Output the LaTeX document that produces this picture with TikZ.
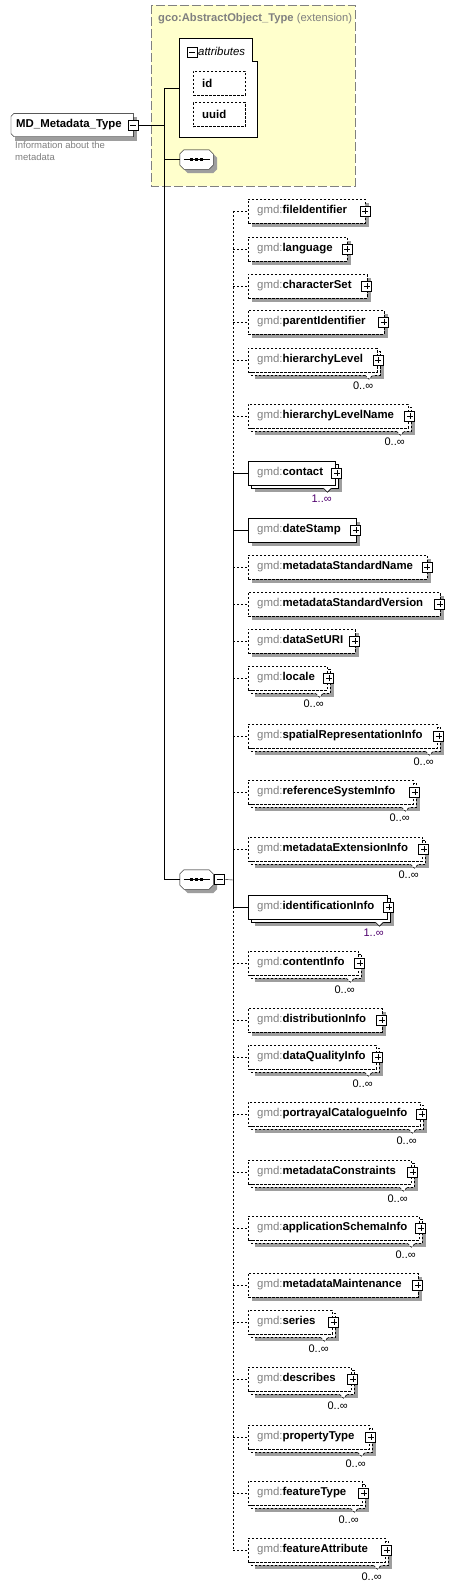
\documentclass[tikz,border=0pt]{standalone}
\usepackage{fontspec}
\setmainfont{Liberation Sans}

\definecolor{gmdgray}{RGB}{128,128,128}
\definecolor{extyellow}{RGB}{255,255,204}
\definecolor{mpurple}{RGB}{80,0,110}
\definecolor{boxshade}{rgb}{0.62,0.62,0.62}

\pgfdeclarelayer{back}
\pgfdeclarelayer{shadowlayer}
\pgfsetlayers{back,shadowlayer,main}

\newcommand{\elemfont}{\fontsize{11.4pt}{13pt}\selectfont}
\newcommand{\occfont}{\fontsize{11pt}{12pt}\selectfont}
\newcommand{\gmd}[1]{{\color{gmdgray}gmd:}\textbf{#1}}
% octagon round a node, moved by #2
\newcommand{\octpath}[2]{([shift={(#2)}, xshift=4pt]#1.north west) -- ([shift={(#2)}, xshift=-4pt]#1.north east)
  -- ([shift={(#2)}, yshift=-4pt]#1.north east) -- ([shift={(#2)}, yshift=4pt]#1.south east)
  -- ([shift={(#2)}, xshift=-4pt]#1.south east) -- ([shift={(#2)}, xshift=4pt]#1.south west)
  -- ([shift={(#2)}, yshift=4pt]#1.south west) -- ([shift={(#2)}, yshift=-4pt]#1.north west) -- cycle}
% box outline round a node, moved by #2
\newcommand{\boxpath}[2]{([shift={(#2)}]#1.north west) -- ([shift={(#2)}]#1.north east)
  -- ([shift={(#2)}]#1.south east) -- ([shift={(#2)}]#1.south west) -- cycle}

\begin{document}
\begin{tikzpicture}[x=1pt, y=-1pt, line width=0.8pt,
  elem/.style={draw, fill=white, anchor=west, minimum height=24pt, inner sep=0pt},
  opt/.style={dash pattern=on 2.4pt off 1.6pt},
  etext/.style={anchor=west, inner sep=0pt, xshift=9pt, font=\elemfont},
  gmdname/.style={label={[etext]west:\gmd{#1}}},
  plusbox/.style={anchor=center, draw, solid, fill=white, line width=1pt, minimum size=10pt, inner sep=0pt,
    path picture={\draw[line width=0.8pt]
      ([yshift=-2pt]path picture bounding box.north) -- ([yshift=2pt]path picture bounding box.south)
      ([xshift=2pt]path picture bounding box.west) -- ([xshift=-2pt]path picture bounding box.east);}},
  minusbox/.style={anchor=center, draw, solid, fill=white, line width=1pt, minimum size=10pt, inner sep=0pt,
    path picture={\draw[line width=0.8pt]
      ([xshift=2pt]path picture bounding box.west) -- ([xshift=-2pt]path picture bounding box.east);}},
  plusmark/.style={label={[plusbox, xshift=#1]east:}}, plusmark/.default=0pt,
  occtext/.style={anchor=east, inner sep=0pt, xshift=-3.5pt, yshift=-14pt, font=\occfont},
  occurs/.style={label={[occtext]south east:#1}},
  notch/.style={line width=0.6pt, fill=white},
  typebox/.style={anchor=west, inner sep=0pt, minimum width=122pt, minimum height=23pt},
  seqbox/.style={inner sep=0pt, minimum width=33pt, minimum height=19pt},
  extbox/.style={draw=gmdgray, fill=extyellow, line width=1pt, dash pattern=on 9pt off 3pt},
  desc/.style={anchor=north west, inner sep=0pt, align=left, text=gmdgray, font=\fontsize{9.5pt}{12pt}\selectfont}]

  \begin{pgfonlayer}{back}
    \path[use as bounding box, fill=white] (0,0) rectangle (470,1588);
    % extension base type
    \draw[extbox] (151,5) rectangle (355,186);
  \end{pgfonlayer}
  \node[anchor=west, inner sep=0pt, text=gmdgray, font=\fontsize{11.2pt}{13pt}\selectfont] (extHead) at (158,19)
    {\textbf{gco:AbstractObject\_Type} (extension)};

  % attribute group
  \draw[fill=white] (179,38) -- (252,38) -- (252,61) -- (257,61) -- (257,137) -- (179,137) -- cycle;
  \coordinate (attrs) at (179,88);
  \node[minusbox] (attrMinus) at (192,52) {};
  \node[anchor=west, inner sep=0pt, font=\elemfont\itshape] (attrHead) at (198,51) {attributes};
  \node[elem, opt, minimum width=52pt, label={[etext]west:\textbf{id}}] (attrId) at (193,83) {};
  \node[elem, opt, minimum width=52pt, label={[etext]west:\textbf{uuid}}] (attrUuid) at (193,114.5) {};

  % complex type
  \node[typebox, label={[etext, xshift=-4pt]west:\textbf{MD\_Metadata\_Type}},
    label={[minusbox, name=mdMinus]east:}] (mdType) at (11,125) {};
  \node[desc] (mdDesc) at (15,141) {Information about the\\metadata};

  \node[seqbox] (seqA) at (196.5,159.5) {};
  \node[seqbox, label={[minusbox, anchor=west, xshift=1pt, name=seqBMinus]east:}] (seqB) at (196.5,879.5) {};

  \coordinate (spine) at (164,88);
  \coordinate (bus) at (233,880);
  \draw (mdMinus.east) -- (mdMinus.east -| spine);
  \draw (spine) -- (attrs);
  \draw (spine) -- (spine |- seqB.west) -- (seqB.west);
  \draw (seqA.west -| spine) -- (seqA.west);
  \draw (seqBMinus.east) -- (bus);

  % sequence members
  \node[elem, opt, minimum width=117pt, gmdname=fileIdentifier, plusmark] (fileIdentifier) at (248,211) {};
  \node[elem, opt, minimum width=99pt, gmdname=language, plusmark] (language) at (248,249) {};
  \node[elem, opt, minimum width=118.5pt, gmdname=characterSet, plusmark] (characterSet) at (248,286) {};
  \node[elem, opt, minimum width=135.5pt, gmdname=parentIdentifier, plusmark] (parentIdentifier) at (248,322) {};
  \node[elem, opt, minimum width=128.5pt, gmdname=hierarchyLevel, plusmark=1.5pt, occurs=0..∞] (hierarchyLevel) at (248,360) {};
  \node[elem, opt, minimum width=160pt, gmdname=hierarchyLevelName, plusmark=1.5pt, occurs=0..∞] (hierarchyLevelName) at (248,416) {};
  \node[elem, minimum width=87pt, gmdname=contact, plusmark=1.5pt, occurs={\textcolor{mpurple}{1..∞}}] (contact) at (248,473) {};
  \node[elem, minimum width=107.5pt, gmdname=dateStamp, plusmark] (dateStamp) at (248,530) {};
  \node[elem, opt, minimum width=179pt, gmdname=metadataStandardName, plusmark] (metadataStandardName) at (248,567) {};
  \node[elem, opt, minimum width=191.5pt, gmdname=metadataStandardVersion, plusmark] (metadataStandardVersion) at (248,604) {};
  \node[elem, opt, minimum width=106.5pt, gmdname=dataSetURI, plusmark] (dataSetURI) at (248,641) {};
  \node[elem, opt, minimum width=79pt, gmdname=locale, plusmark=1.5pt, occurs=0..∞] (locale) at (248,678) {};
  \node[elem, opt, minimum width=189pt, gmdname=spatialRepresentationInfo, plusmark=1.5pt, occurs=0..∞] (spatialRepresentationInfo) at (248,736) {};
  \node[elem, opt, minimum width=165pt, gmdname=referenceSystemInfo, plusmark=1.5pt, occurs=0..∞] (referenceSystemInfo) at (248,792) {};
  \node[elem, opt, minimum width=174pt, gmdname=metadataExtensionInfo, plusmark=1.5pt, occurs=0..∞] (metadataExtensionInfo) at (248,849) {};
  \node[elem, minimum width=139pt, gmdname=identificationInfo, plusmark=1.5pt, occurs={\textcolor{mpurple}{1..∞}}] (identificationInfo) at (248,907) {};
  \node[elem, opt, minimum width=110pt, gmdname=contentInfo, plusmark=1.5pt, occurs=0..∞] (contentInfo) at (248,963) {};
  \node[elem, opt, minimum width=133.5pt, gmdname=distributionInfo, plusmark] (distributionInfo) at (248,1020) {};
  \node[elem, opt, minimum width=128pt, gmdname=dataQualityInfo, plusmark=1.5pt, occurs=0..∞] (dataQualityInfo) at (248,1057) {};
  \node[elem, opt, minimum width=172pt, gmdname=portrayalCatalogueInfo, plusmark=1.5pt, occurs=0..∞] (portrayalCatalogueInfo) at (248,1114) {};
  \node[elem, opt, minimum width=163pt, gmdname=metadataConstraints, plusmark=1.5pt, occurs=0..∞] (metadataConstraints) at (248,1172) {};
  \node[elem, opt, minimum width=171pt, gmdname=applicationSchemaInfo, plusmark=1.5pt, occurs=0..∞] (applicationSchemaInfo) at (248,1228) {};
  \node[elem, opt, minimum width=169.5pt, gmdname=metadataMaintenance, plusmark] (metadataMaintenance) at (248,1285) {};
  \node[elem, opt, minimum width=84pt, gmdname=series, plusmark=1.5pt, occurs=0..∞] (series) at (248,1322) {};
  \node[elem, opt, minimum width=103pt, gmdname=describes, plusmark=1.5pt, occurs=0..∞] (describes) at (248,1379) {};
  \node[elem, opt, minimum width=121pt, gmdname=propertyType, plusmark=1.5pt, occurs=0..∞] (propertyType) at (248,1437) {};
  \node[elem, opt, minimum width=114pt, gmdname=featureType, plusmark=1.5pt, occurs=0..∞] (featureType) at (248,1493) {};
  \node[elem, opt, minimum width=137pt, gmdname=featureAttribute, plusmark=1.5pt, occurs=0..∞] (featureAttribute) at (248,1550) {};

  % shadows, outlines and back copies
  \begin{pgfonlayer}{shadowlayer}
    \foreach \n in {hierarchyLevel, hierarchyLevelName, contact, locale, spatialRepresentationInfo,
        referenceSystemInfo, metadataExtensionInfo, identificationInfo, contentInfo, dataQualityInfo,
        portrayalCatalogueInfo, metadataConstraints, applicationSchemaInfo, series, describes,
        propertyType, featureType, featureAttribute}
      \fill[boxshade] ([shift={(7pt,-7pt)}]\n.north west) rectangle ([shift={(7pt,-7pt)}]\n.south east);
    \foreach \b in {attrId, attrUuid, mdType, fileIdentifier, language, characterSet, parentIdentifier,
        dateStamp, metadataStandardName, metadataStandardVersion, dataSetURI, distributionInfo,
        metadataMaintenance} {
      \fill[boxshade] \boxpath{\b}{4pt,-4pt};
    }
    \foreach \n in {hierarchyLevel, hierarchyLevelName, locale, spatialRepresentationInfo, referenceSystemInfo,
        metadataExtensionInfo, contentInfo, dataQualityInfo, portrayalCatalogueInfo, metadataConstraints,
        applicationSchemaInfo, series, describes, propertyType, featureType, featureAttribute}
      \draw[opt, fill=white] ([shift={(3pt,-3pt)}]\n.north west) rectangle ([shift={(3pt,-3pt)}]\n.south east);
    \foreach \n in {contact, identificationInfo}
      \draw[fill=white] ([shift={(3pt,-3pt)}]\n.north west) rectangle ([shift={(3pt,-3pt)}]\n.south east);
    \draw[fill=white] ([xshift=3pt]mdType.north west) -- (mdType.north east) -- (mdType.south east)
      -- ([xshift=3pt]mdType.south west) -- ([yshift=3pt]mdType.south west) -- ([yshift=-3pt]mdType.north west) -- cycle;
    \foreach \s in {seqA, seqB} {
      \fill[boxshade] \octpath{\s}{4pt,-4pt};
      \draw[fill=white] \octpath{\s}{0pt,0pt};
      \draw ([xshift=-13pt]\s.center) -- ([xshift=13pt]\s.center);
      \foreach \d in {-5,0,5}
        \fill ([shift={(\d pt-1.6pt,-1.6pt)}]\s.center) rectangle ++(3.2pt,3.2pt);
    }
  \end{pgfonlayer}

  % occurrence marks
  \foreach \n in {hierarchyLevel, hierarchyLevelName, locale, spatialRepresentationInfo, referenceSystemInfo,
      metadataExtensionInfo, contentInfo, dataQualityInfo, portrayalCatalogueInfo, metadataConstraints,
      applicationSchemaInfo, series, describes, propertyType, featureType, featureAttribute}
    \draw[notch, opt] ([shift={(-12pt,-3pt)}]\n.south east) -- ++(4pt,-4pt) -- ++(4pt,4pt);
  \foreach \n in {contact, identificationInfo}
    \draw[notch] ([shift={(-12pt,-3pt)}]\n.south east) -- ++(4pt,-4pt) -- ++(4pt,4pt);

  % connectors
  \draw[opt] (fileIdentifier.west -| bus) -- (contact.west -| bus);
  \draw (contact.west -| bus) -- (identificationInfo.west -| bus);
  \draw[opt] (identificationInfo.west -| bus) -- (featureAttribute.west -| bus);
  \foreach \n in {fileIdentifier, language, characterSet, parentIdentifier, hierarchyLevel, hierarchyLevelName,
      metadataStandardName, metadataStandardVersion, dataSetURI, locale, spatialRepresentationInfo,
      referenceSystemInfo, metadataExtensionInfo, contentInfo, distributionInfo, dataQualityInfo,
      portrayalCatalogueInfo, metadataConstraints, applicationSchemaInfo, metadataMaintenance, series,
      describes, propertyType, featureType, featureAttribute}
    \draw[opt] (\n.west -| bus) -- (\n.west);
  \foreach \n in {contact, dateStamp, identificationInfo}
    \draw (\n.west -| bus) -- (\n.west);
\end{tikzpicture}
\end{document}
